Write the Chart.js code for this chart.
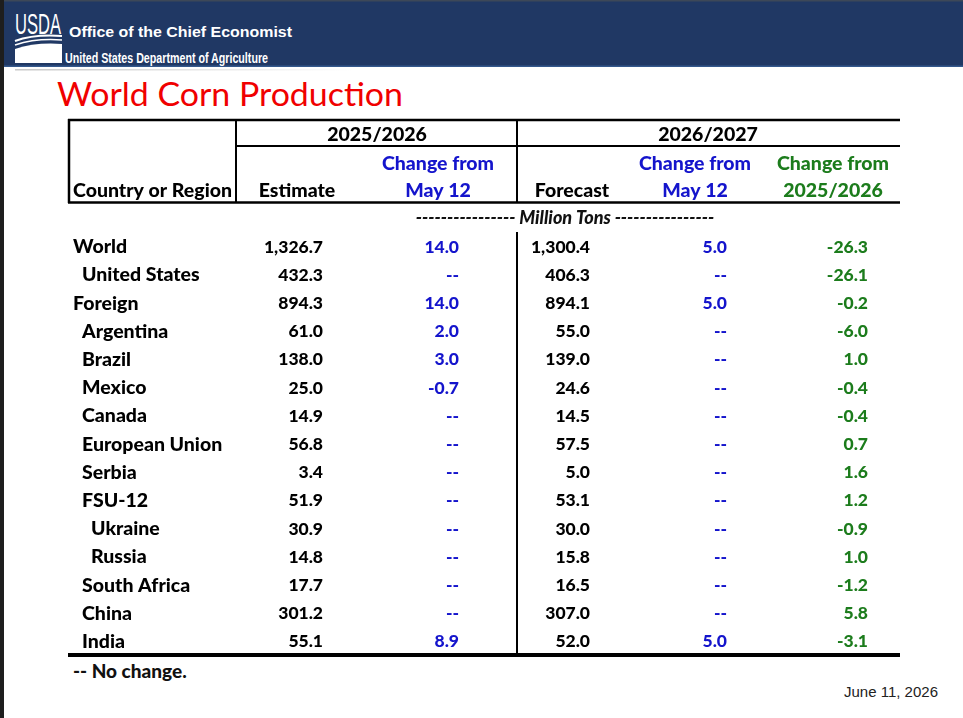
<!DOCTYPE html>
<html>
<head>
<meta charset="utf-8">
<title>World Corn Production</title>
<script src="https://cdn.jsdelivr.net/npm/chart.js@4.4.1/dist/chart.umd.min.js"></script>
<style>
html, body { margin: 0; padding: 0; background: #fff; }
#page { position: relative; width: 963px; height: 718px; overflow: hidden; background: #fff; }
#chrome { position: absolute; left: 0; top: 0; }
#myTable { position: absolute; left: 0; top: 0; }
</style>
</head>
<body>
<div id="page">
  <svg id="chrome" width="963" height="718" xmlns="http://www.w3.org/2000/svg">
    <defs>
      <linearGradient id="fade" x1="0" x2="1" y1="0" y2="0">
        <stop offset="0" stop-color="#c8c8c8"/>
        <stop offset="1" stop-color="#ffffff"/>
      </linearGradient>
    </defs>
    <rect x="0" y="0" width="963" height="67" fill="#203864"/>
    <rect x="0" y="0" width="963" height="1.5" fill="#3d4858"/>
    <rect x="0" y="65.5" width="963" height="1.5" fill="#34588c"/>
    <rect x="15" y="69" width="340" height="1.5" fill="url(#fade)"/>
    <rect x="0" y="0" width="4" height="718" fill="#1e1e1e"/>
    <!-- logo -->
    <text x="15" y="34" fill="#fff" font-family="Liberation Sans" font-size="29" textLength="46" lengthAdjust="spacingAndGlyphs">USDA</text>
    <path d="M15,41 Q34,34 62,36" stroke="#fff" stroke-width="2" fill="none"/>
    <path d="M15,45 Q36,38 62,40" stroke="#fff" stroke-width="1.6" fill="none"/>
    <path d="M15,63 L15,49 Q36,42 62,44 L62,63 Z" fill="#fff"/>
    <text x="69" y="37" fill="#fff" font-family="Liberation Sans" font-weight="bold" font-size="15" textLength="223" lengthAdjust="spacingAndGlyphs">Office of the Chief Economist</text>
    <text x="65" y="63" fill="#fff" font-family="Liberation Sans" font-weight="bold" font-size="15" textLength="203" lengthAdjust="spacingAndGlyphs">United States Department of Agriculture</text>
    <!-- title -->
    <text x="57" y="106" fill="#f00000" font-family="Lato" font-size="32" textLength="346" lengthAdjust="spacingAndGlyphs">World Corn Production</text>
    <!-- notes -->
    <text x="73" y="678" fill="#111" font-family="Lato" font-weight="900" font-size="19">-- No change.</text>
    <text x="938" y="697" fill="#222" font-family="Liberation Sans" font-size="15" text-anchor="end">June 11, 2026</text>
  </svg>
  <canvas id="myTable" width="963" height="718"></canvas>
</div>
<script>
// rows of the table
var regions = ['World', 'United States', 'Foreign', 'Argentina', 'Brazil', 'Mexico', 'Canada',
  'European Union', 'Serbia', 'FSU-12', 'Ukraine', 'Russia', 'South Africa', 'China', 'India'];
var indentLevel = [0, 1, 0, 1, 1, 1, 1, 1, 1, 1, 2, 2, 1, 1, 1];

// million tons; null = no change
var estimate2526 = [1326.7, 432.3, 894.3, 61.0, 138.0, 25.0, 14.9, 56.8, 3.4, 51.9, 30.9, 14.8, 17.7, 301.2, 55.1];
var changeMay2526 = [14.0, null, 14.0, 2.0, 3.0, -0.7, null, null, null, null, null, null, null, null, 8.9];
var forecast2627 = [1300.4, 406.3, 894.1, 55.0, 139.0, 24.6, 14.5, 57.5, 5.0, 53.1, 30.0, 15.8, 16.5, 307.0, 52.0];
var changeMay2627 = [5.0, null, 5.0, null, null, null, null, null, null, null, null, null, null, null, 5.0];
var changeYear = [-26.3, -26.1, -0.2, -6.0, 1.0, -0.4, -0.4, 0.7, 1.6, 1.2, -0.9, 1.0, -1.2, 5.8, -3.1];

var BLACK = '#000000';
var BLUE = '#1414cc';
var GREEN = '#1c7c1c';
var TEXT_FONT = '900 19.5px Lato';
var NUM_FONT = '900 17.5px Lato';

// anchor of each column along the table (0 = left rule, 833 = right rule)
var colAnchor = { label: 5, est: 255, chgA: 391, fc: 522, chgB: 659, chgY: 800 };

function fmt(v) {
    if (v === null) return '--';
    return v.toLocaleString('en-US', { minimumFractionDigits: 1, maximumFractionDigits: 1 });
}

function column(values, anchor, color, isLabel) {
    return {
        data: values.map(function (v, i) { return { x: anchor, y: i }; }),
        texts: values.map(function (v) { return isLabel ? v : fmt(v); }),
        textColor: color,
        isLabel: isLabel,
        pointRadius: 0,
        pointHoverRadius: 0
    };
}

var tablePlugin = {
    id: 'cornTable',
    afterDatasetsDraw: function (chart) {
        var ctx = chart.ctx;
        var a = chart.chartArea;
        var xs = chart.scales.x;
        var px = function (v) { return xs.getPixelForValue(v); };
        var top = a.top;

        function rule(x1, y1, x2, y2, w) {
            ctx.beginPath();
            ctx.lineWidth = w;
            ctx.moveTo(x1, y1);
            ctx.lineTo(x2, y2);
            ctx.stroke();
        }
        function write(txt, x, y, color, align, font) {
            ctx.font = font || TEXT_FONT;
            ctx.fillStyle = color;
            ctx.textAlign = align;
            ctx.textBaseline = 'alphabetic';
            ctx.fillText(txt, x, y);
        }

        ctx.save();
        ctx.strokeStyle = '#000';
        // header rules
        rule(px(0), top - 112, px(832), top - 112, 2.5);
        rule(px(168), top - 86, px(832), top - 86, 2);
        rule(px(0), top - 29.5, px(832), top - 29.5, 2.5);
        rule(px(1), top - 113, px(1), top - 29, 2.5);
        rule(px(168), top - 113, px(168), top - 29, 2);
        rule(px(449), top - 113, px(449), top - 29, 2);
        // body divider and bottom rule
        rule(px(449), top, px(449), a.bottom, 2);
        rule(px(0), a.bottom, px(832), a.bottom, 4);

        // header labels
        write('2025/2026', px(309), top - 91.5, BLACK, 'center');
        write('2026/2027', px(640), top - 91.5, BLACK, 'center');
        write('Change from', px(370), top - 62.5, BLUE, 'center');
        write('Change from', px(627), top - 62.5, BLUE, 'center');
        write('Change from', px(765), top - 62.5, GREEN, 'center');
        write('Country or Region', px(colAnchor.label), top - 35.5, BLACK, 'left');
        write('Estimate', px(229), top - 35.5, BLACK, 'center');
        write('May 12', px(370), top - 35.5, BLUE, 'center');
        write('Forecast', px(504), top - 35.5, BLACK, 'center');
        write('May 12', px(627), top - 35.5, BLUE, 'center');
        write('2025/2026', px(765), top - 35.5, GREEN, 'center');
        write('---------------- Million Tons ----------------', px(497), top - 8, '#111', 'center', 'italic 900 18px Lato');

        // table cells, placed on the scale positions of each point
        chart.data.datasets.forEach(function (ds, k) {
            var meta = chart.getDatasetMeta(k);
            meta.data.forEach(function (pt, i) {
                if (ds.isLabel) {
                    write(ds.texts[i], pt.x + indentLevel[i] * 9, pt.y + 7, BLACK, 'left');
                } else {
                    write(ds.texts[i], pt.x, pt.y + 6.5, ds.textColor, 'right', NUM_FONT);
                }
            });
        });
        ctx.restore();
    }
};

var ctx = document.getElementById('myTable').getContext('2d');
var myChart = new Chart(ctx, {
    type: 'scatter',
    data: {
        datasets: [
            column(regions, colAnchor.label, BLACK, true),
            column(estimate2526, colAnchor.est, BLACK, false),
            column(changeMay2526, colAnchor.chgA, BLUE, false),
            column(forecast2627, colAnchor.fc, BLACK, false),
            column(changeMay2627, colAnchor.chgB, BLUE, false),
            column(changeYear, colAnchor.chgY, GREEN, false)
        ]
    },
    options: {
        responsive: false,
        animation: false,
        events: [],
        layout: {
            padding: { left: 68, right: 62, top: 232, bottom: 63 }
        },
        plugins: {
            legend: { display: false },
            title: { display: false },
            tooltip: { enabled: false }
        },
        scales: {
            x: { type: 'linear', min: 0, max: 833, display: false },
            y: { type: 'linear', min: -0.5, max: regions.length - 0.5, reverse: true, display: false }
        }
    },
    plugins: [tablePlugin]
});
</script>
</body>
</html>
